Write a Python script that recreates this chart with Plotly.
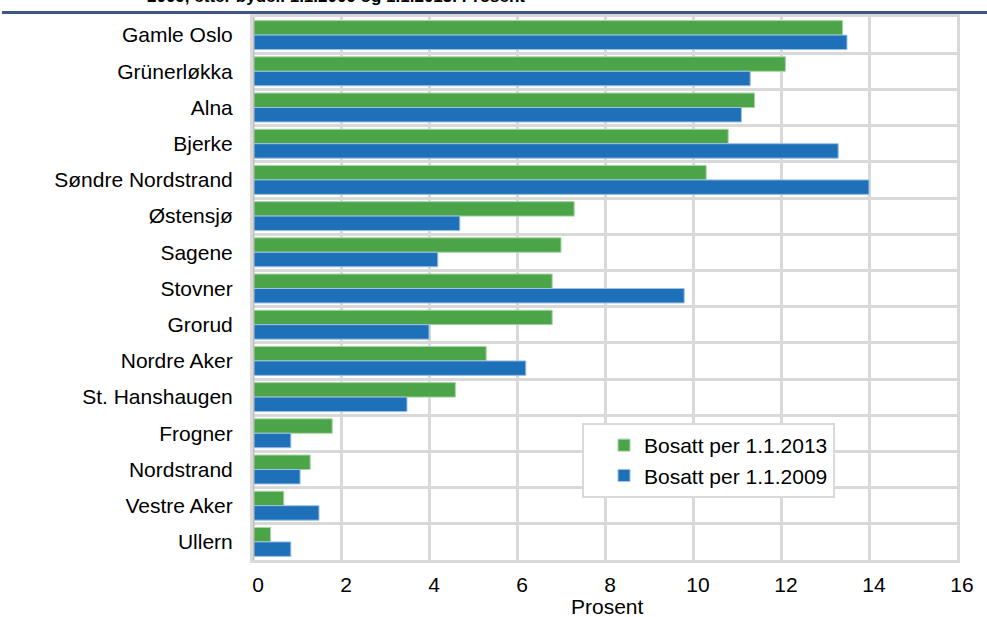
import plotly.graph_objects as go

districts = ["Gamle Oslo", "Grünerløkka", "Alna", "Bjerke", "Søndre Nordstrand",
             "Østensjø", "Sagene", "Stovner", "Grorud", "Nordre Aker",
             "St. Hanshaugen", "Frogner", "Nordstrand", "Vestre Aker", "Ullern"]
bosatt_2013 = [13.4, 12.1, 11.4, 10.8, 10.3, 7.3, 7.0, 6.8, 6.8, 5.3, 4.6, 1.8, 1.3, 0.7, 0.4]
bosatt_2009 = [13.5, 11.3, 11.1, 13.3, 14.0, 4.7, 4.2, 9.8, 4.0, 6.2, 3.5, 0.86, 1.07, 1.5, 0.86]
x_ticks = [0, 2, 4, 6, 8, 10, 12, 14, 16]
name_2013 = "Bosatt per 1.1.2013"
name_2009 = "Bosatt per 1.1.2009"
x_title = "Prosent"
cut_title = "2009, etter bydel. 1.1.2009 og 1.1.2013. Prosent"

FONT = "Arial, 'Liberation Sans', sans-serif"
GREEN = "#4BA548"
BLUE = "#1E70B8"
GRID = "#D9D9D9"
FS = 21

pos = list(range(len(districts)))

fig = go.Figure()
fig.add_trace(go.Bar(y=pos, x=bosatt_2013, orientation="h", name=name_2013,
                     marker=dict(color=GREEN, line=dict(color="#A9D6A7", width=1))))
fig.add_trace(go.Bar(y=pos, x=bosatt_2009, orientation="h", name=name_2009,
                     marker=dict(color=BLUE, line=dict(color="#9CC1E6", width=1))))

L, R, T, B = 253, 30, 17, 57
W, H = 987, 617
pw, ph = W - L - R, H - T - B

fig.update_layout(
    width=W, height=H,
    margin=dict(l=L, r=R, t=T, b=B, pad=0, autoexpand=False),
    paper_bgcolor="white", plot_bgcolor="white",
    barmode="group", bargap=0.2, bargroupgap=0.0,
    font=dict(family=FONT, size=FS, color="#000000"),
    showlegend=True,
    legend=dict(
        x=(582 - L) / pw, y=(H - B - 423) / ph, xanchor="left", yanchor="top",
        bgcolor="white", bordercolor=GRID, borderwidth=2,
        font=dict(family=FONT, size=FS, color="#000000"),
        indentation=20,
        traceorder="normal",
    ),
    xaxis=dict(
        range=[0, 16], tickvals=x_ticks, ticktext=[str(v) for v in x_ticks],
        showgrid=True, gridcolor=GRID, gridwidth=2.5,
        zeroline=False,
        showline=True, mirror=True, linecolor=GRID, linewidth=3,
        ticks="outside", ticklen=4, tickcolor="rgba(0,0,0,0)",
        tickfont=dict(size=FS), ticklabelshift=5,
        automargin=False,
    ),
    yaxis=dict(
        range=[len(districts) - 0.5, -0.5],
        tickvals=pos, ticktext=districts,
        showgrid=False, zeroline=False,
        showline=True, mirror=True, linecolor=GRID, linewidth=3,
        ticks="outside", ticklen=13, tickcolor="rgba(0,0,0,0)",
        tickfont=dict(size=FS),
        automargin=False,
        minor=dict(tickvals=[i + 0.5 for i in pos[:-1]], showgrid=True,
                   gridcolor=GRID, gridwidth=2.5, ticks=""),
    ),
)

# x-axis title
fig.add_annotation(text=x_title, xref="paper", yref="paper",
                   x=(607 - L) / pw, y=(H - B - 606) / ph,
                   xanchor="center", yanchor="middle", showarrow=False,
                   font=dict(family=FONT, size=FS, color="#000000"))

# darker left axis line
fig.add_shape(type="line", xref="x", yref="paper", x0=0, x1=0, y0=0, y1=1,
              line=dict(color="#BFBFBF", width=3), layer="above")

# rule at top of page
fig.add_shape(type="line", xref="paper", yref="paper",
              x0=(2 - L) / pw, x1=(W - L) / pw,
              y0=(H - B - 12.5) / ph, y1=(H - B - 12.5) / ph,
              line=dict(color="#3E5685", width=3))

# clipped title at the very top
fig.add_annotation(text=cut_title, xref="paper", yref="paper",
                   x=(145 - L) / pw, y=(H - B - 8) / ph,
                   xanchor="left", yanchor="bottom", showarrow=False,
                   font=dict(family=FONT, size=17, color="#000000", weight="bold"))

fig.write_html("out.html", config={"displayModeBar": False},
               post_script="document.body.style.margin='0';")
